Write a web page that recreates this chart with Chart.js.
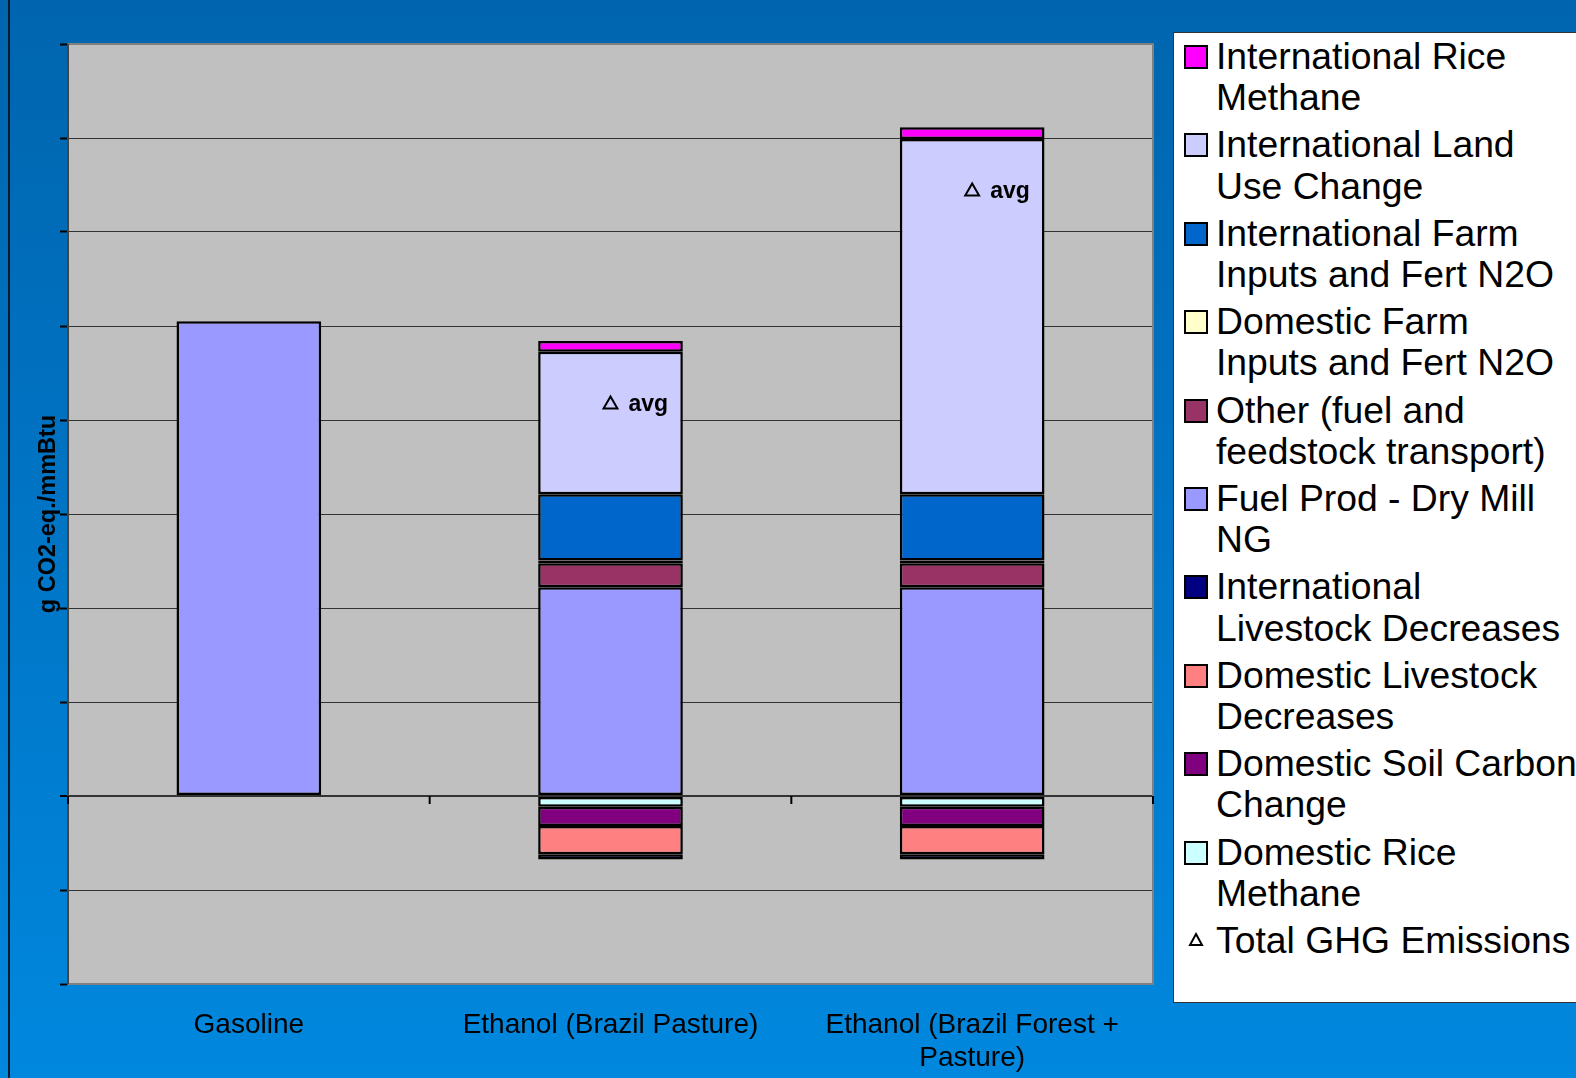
<!DOCTYPE html>
<html>
<head>
<meta charset="utf-8">
<script src="https://cdn.jsdelivr.net/npm/chart.js@4/dist/chart.umd.min.js"></script>
<style>
  html, body { margin: 0; padding: 0; }
  body {
    width: 1576px; height: 1078px; overflow: hidden; position: relative;
    background: linear-gradient(180deg, #0065ae 0%, #0075c6 50%, #0088de 100%);
    font-family: "Liberation Sans", Arial, sans-serif;
  }
  #vline { position: absolute; left: 8px; top: 0; width: 2px; height: 1078px; background: #0a1a2a; }
  #wrap { position: absolute; left: 0; top: 0; width: 1576px; height: 1078px; }
  #legend {
    position: absolute; left: 1173px; top: 32px; width: 500px; height: 971px;
    background: #fff; border: 1px solid #333; box-sizing: border-box;
    padding: 3px 0 0 10px;
  }
  .item { display: flex; align-items: flex-start; margin-bottom: 5.8px; }
  .sw { width: 20px; height: 20px; border: 2px solid #000; flex: 0 0 auto; margin-top: 9px; margin-right: 8px; }
  .tri { width: 24px; height: 24px; flex: 0 0 auto; margin-top: 8px; margin-right: 8px; }
  .txt { width: 362.5px; font-size: 37.3px; line-height: 41.3px; color: #000; }
</style>
</head>
<body>
<div id="vline"></div>
<div id="wrap"><canvas id="c" width="1576" height="1078"></canvas></div>
<div id="legend"></div>
<script>
// ---- data ----
const categories = ['Gasoline', 'Ethanol (Brazil Pasture)', ['Ethanol (Brazil Forest +', 'Pasture)']];
const domesticRiceMethane = [0, -2.3, -2.3];
const domesticSoilCarbon = [0, -4.1, -4.1];
const domesticLivestock = [0, -6.0, -6.0];
const internationalLivestock = [0, -1.1, -1.1];
const fuelProdDryMillNG = [101, 44.4, 44.4];
const otherFuelTransport = [0, 5.1, 5.1];
const domesticFarmInputs = [0, 0.6, 0.6];
const internationalFarmInputs = [0, 14.1, 14.1];
const internationalLandUse = [0, 30.3, 75.6];
const internationalRiceMethane = [0, 2.3, 2.5];
const totalGHG = [null, 83.3, 128.6];
const totalLabels = [null, 'avg', 'avg'];
const yMin = -40, yMax = 160, yStep = 20;

const seriesNames = [
  'Domestic Rice Methane', 'Domestic Soil Carbon Change', 'Domestic Livestock Decreases',
  'International Livestock Decreases', 'Fuel Prod - Dry Mill NG', 'Other (fuel and feedstock transport)',
  'Domestic Farm Inputs and Fert N2O', 'International Farm Inputs and Fert N2O',
  'International Land Use Change', 'International Rice Methane'
];
const seriesValues = [
  domesticRiceMethane, domesticSoilCarbon, domesticLivestock, internationalLivestock,
  fuelProdDryMillNG, otherFuelTransport, domesticFarmInputs, internationalFarmInputs,
  internationalLandUse, internationalRiceMethane
];
const seriesColors = ['#CCFFFF', '#800080', '#FF8080', '#000080', '#9999FF', '#993366', '#FFFFCC', '#0066CC', '#CCCCFF', '#FF00FF'];
const totalName = 'Total GHG Emissions';

const datasets = seriesNames.map((n, i) => ({
  type: 'bar', label: n, data: seriesValues[i], backgroundColor: seriesColors[i],
  borderColor: '#000', borderWidth: 2.5, borderSkipped: false, stack: 'bars',
  categoryPercentage: 1.0, barPercentage: 0.4
}));
datasets.push({
  type: 'line', label: totalName, data: totalGHG, showLine: false, stack: 'total', order: -1,
  pointStyle: 'triangle', pointRadius: 8, pointBorderWidth: 2,
  pointBackgroundColor: 'rgba(0,0,0,0)', pointBorderColor: '#000', borderColor: '#000'
});

const plotBg = {
  id: 'plotBg',
  beforeDraw(chart) {
    const {ctx, chartArea: a} = chart;
    ctx.save();
    ctx.fillStyle = '#C0C0C0';
    ctx.fillRect(a.left, a.top, a.right - a.left, a.bottom - a.top);
    ctx.restore();
  },
  afterDraw(chart) {
    const {ctx, chartArea: a, scales} = chart;
    ctx.save();
    ctx.strokeStyle = '#808080'; ctx.lineWidth = 2;
    ctx.beginPath();
    ctx.moveTo(a.left, a.top); ctx.lineTo(a.right, a.top); ctx.lineTo(a.right, a.bottom); ctx.lineTo(a.left, a.bottom);
    ctx.stroke();
    ctx.strokeStyle = '#444'; ctx.beginPath(); ctx.moveTo(a.left, a.top); ctx.lineTo(a.left, a.bottom); ctx.stroke();
    // category boundary tick marks on the zero line
    const y0 = scales.y.getPixelForValue(0);
    const half = (scales.x.getPixelForValue(1) - scales.x.getPixelForValue(0)) / 2;
    ctx.strokeStyle = '#000'; ctx.lineWidth = 2;
    for (let i = 0; i <= categories.length; i++) {
      const x = scales.x.getPixelForValue(0) - half + i * 2 * half;
      ctx.beginPath(); ctx.moveTo(x, y0); ctx.lineTo(x, y0 + 8); ctx.stroke();
    }
    // avg labels next to total markers
    const meta = chart.getDatasetMeta(datasets.length - 1);
    ctx.fillStyle = '#000'; ctx.font = 'bold 23px "Liberation Sans", Arial, sans-serif';
    ctx.textBaseline = 'middle'; ctx.textAlign = 'left';
    meta.data.forEach((pt, i) => {
      if (totalLabels[i] && totalGHG[i] != null) ctx.fillText(totalLabels[i], pt.x + 18, pt.y);
    });
    ctx.restore();
  }
};

new Chart(document.getElementById('c'), {
  data: { labels: categories, datasets },
  options: {
    responsive: false, animation: false,
    layout: { padding: { left: 0, top: 44, right: 423, bottom: 0 } },
    plugins: { legend: { display: false }, tooltip: { enabled: false } },
    scales: {
      x: {
        stacked: true,
        grid: { display: false, drawTicks: false },
        border: { display: false },
        ticks: { color: '#000', font: { family: '"Liberation Sans", Arial, sans-serif', size: 28 }, padding: 24, maxRotation: 0, autoSkip: false },
        afterFit(s) { s.height = 94; }
      },
      y: {
        stacked: true, min: yMin, max: yMax,
        ticks: { display: false, stepSize: yStep },
        grid: { color: '#333', lineWidth: c => (c.tick && c.tick.value === 0 ? 2 : 1), drawTicks: true, tickLength: 8, tickColor: '#000', tickWidth: 2 },
        border: { display: true, color: '#444', width: 2 },
        title: { display: true, text: 'g CO2-eq./mmBtu', color: '#000', font: { family: '"Liberation Sans", Arial, sans-serif', size: 23.5, weight: 'bold' }, padding: { top: 34, bottom: 0 } },
        afterFit(s) { s.width = 68; }
      }
    }
  },
  plugins: [plotBg]
});

// HTML legend (reverse of stacking order)
const leg = document.getElementById('legend');
for (let i = seriesNames.length - 1; i >= 0; i--) {
  const it = document.createElement('div'); it.className = 'item';
  const sw = document.createElement('div'); sw.className = 'sw'; sw.style.background = seriesColors[i];
  const tx = document.createElement('div'); tx.className = 'txt'; tx.textContent = seriesNames[i];
  it.appendChild(sw); it.appendChild(tx); leg.appendChild(it);
}
{
  const it = document.createElement('div'); it.className = 'item';
  const tri = document.createElement('div'); tri.className = 'tri';
  tri.innerHTML = '<svg width="24" height="24"><polygon points="12,6 18,17 6,17" fill="none" stroke="#000" stroke-width="2"/></svg>';
  const tx = document.createElement('div'); tx.className = 'txt'; tx.textContent = totalName;
  it.appendChild(tri); it.appendChild(tx); leg.appendChild(it);
}
</script>
</body>
</html>
